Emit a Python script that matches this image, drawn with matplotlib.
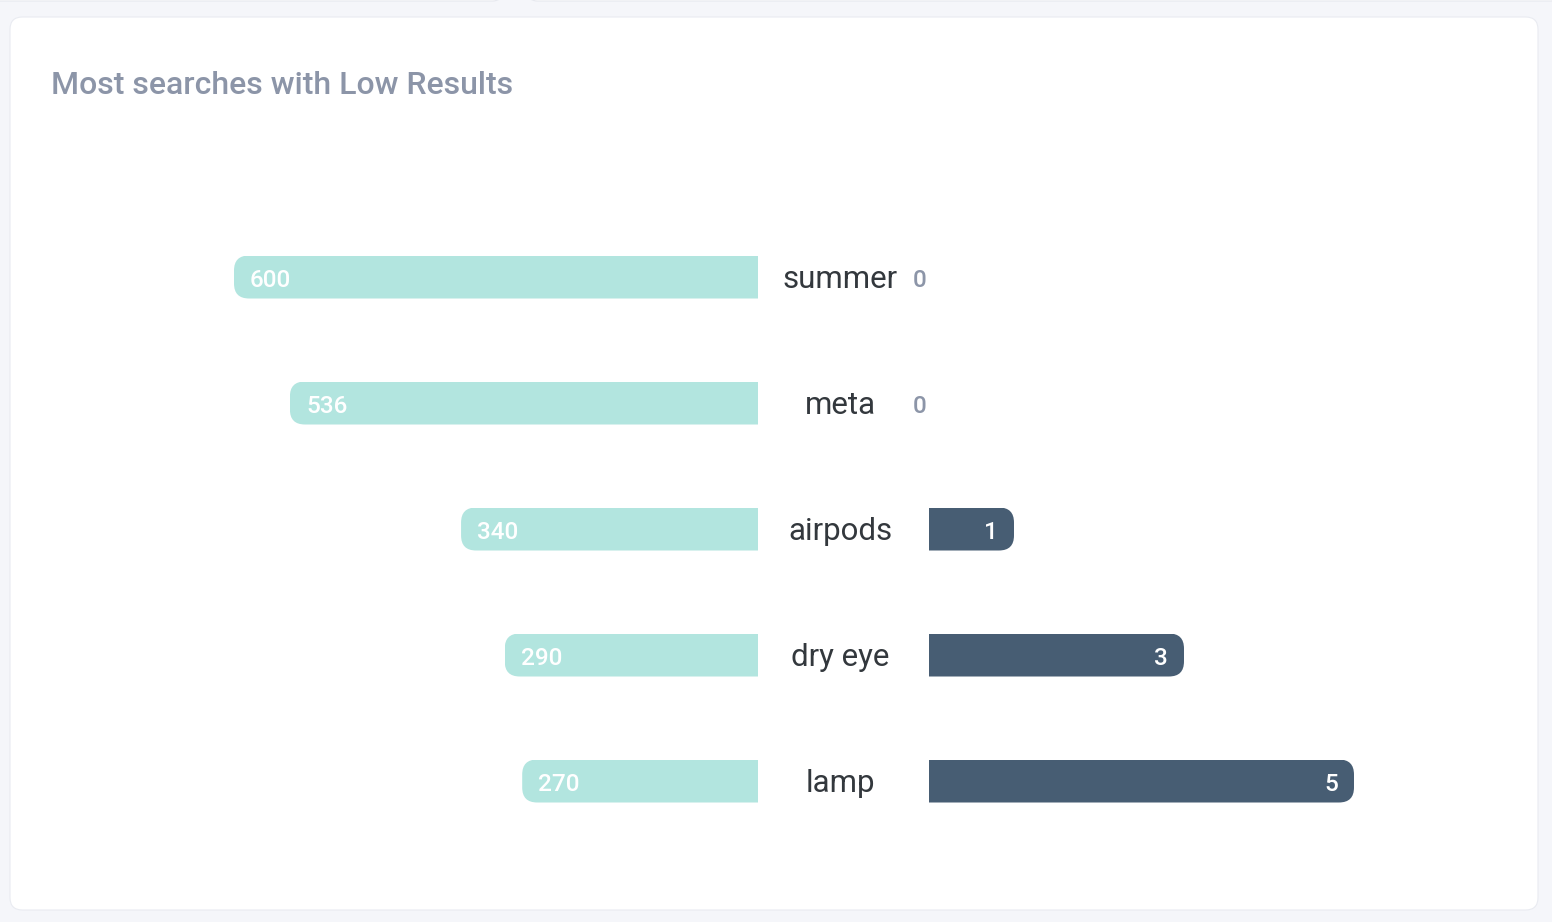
import matplotlib
matplotlib.use('Agg')
import matplotlib.pyplot as plt
from matplotlib.patches import FancyBboxPatch
from matplotlib.transforms import IdentityTransform, blended_transform_factory

plt.rcParams['font.family'] = ['Roboto', 'DejaVu Sans']

# data
terms = ['summer', 'meta', 'airpods', 'dry eye', 'lamp']
searches = [600, 536, 340, 290, 270]
results = [0, 0, 1, 3, 5]

title = 'Most searches with Low Results'
teal = '#b2e5df'
slate = '#475d73'
grey_text = '#8c95a8'
dark_text = '#33383d'
page_bg = '#f5f6fa'

W, H = 1552, 922
fig = plt.figure(figsize=(W / 100, H / 100), dpi=100)
fig.patch.set_facecolor(page_bg)


def px(x, y):
    return x / W, 1 - y / H


# card + bits of cards above (behind the axes)
card = FancyBboxPatch(px(10, 910), 1528 / W, 893 / H, boxstyle='round,pad=0,rounding_size=0.008',
                      transform=fig.transFigure, facecolor='white', edgecolor='#e9ebf1', linewidth=0.8,
                      mutation_aspect=W / H, zorder=-5)
fig.patches.append(card)
for x0, x1 in [(-20, 502), (528, 1560)]:
    top = FancyBboxPatch((x0 / W, 1 - 1 / H), (x1 - x0) / W, 40 / H,
                         boxstyle='round,pad=0,rounding_size=0.006', transform=fig.transFigure,
                         facecolor='white', edgecolor='#e6e8ee', linewidth=0.8,
                         mutation_aspect=W / H, zorder=-5)
    fig.patches.append(top)

fig.text(51 / W, 1 - 85 / H, title, fontsize=23, color=grey_text, fontweight='medium',
         ha='left', va='center')

bottom = (H - 844) / H
height = 630 / H
ax_l = fig.add_axes([160 / W, bottom, 598 / W, height])
ax_r = fig.add_axes([929 / W, bottom, 571 / W, height])

ypos = list(range(len(terms)))
bar_h = 43 / 126

for ax in (ax_l, ax_r):
    ax.set_facecolor('none')
    ax.set_ylim(len(terms) - 0.5, -0.5)
    ax.set_axis_off()

ax_l.set_xlim(598 / 524 * max(searches), 0)
ax_r.set_xlim(0, 571 / 85)

bars_l = ax_l.barh(ypos, searches, height=bar_h, color=teal, zorder=2)
bars_r = ax_r.barh(ypos, results, height=bar_h, color=slate, zorder=2)


def round_outer(bars, side, radius=15):
    # clip each bar with a box rounded only on its outer end
    for b in bars:
        bb = b.get_window_extent()
        if bb.width <= 0:
            continue
        if side == 'left':
            x0, x1 = bb.x0, bb.x1 + radius * 2
        else:
            x0, x1 = bb.x0 - radius * 2, bb.x1
        clip = FancyBboxPatch((x0, bb.y0), x1 - x0, bb.height,
                              boxstyle=f'round,pad=0,rounding_size={radius}',
                              transform=IdentityTransform())
        b.set_clip_path(clip)


round_outer(bars_l, 'left')
round_outer(bars_r, 'right')

val_fs = 17.5
for i, v in enumerate(searches):
    ax_l.annotate(str(v), xy=(v, i), xytext=(16, -3), textcoords='offset pixels',
                  ha='left', va='center', fontsize=val_fs, color='white', fontweight='medium', zorder=3)

for i, v in enumerate(results):
    if v > 0:
        ax_r.annotate(str(v), xy=(v, i), xytext=(-16, -3), textcoords='offset pixels',
                      ha='right', va='center', fontsize=val_fs, color='white', fontweight='medium', zorder=3)
    else:
        ax_r.annotate(str(v), xy=(v, i), xytext=(-2, -3), textcoords='offset pixels',
                      ha='right', va='center', fontsize=val_fs, color=grey_text, fontweight='medium', zorder=3)

trans = blended_transform_factory(fig.transFigure, ax_l.transData)
for i, t in enumerate(terms):
    ax_l.annotate(t, xy=(840 / W, i), xycoords=trans, xytext=(0, -2), textcoords='offset pixels',
                  ha='center', va='center', fontsize=22.5, color=dark_text, annotation_clip=False)

fig.savefig('out.png', dpi=100, facecolor=fig.get_facecolor())
